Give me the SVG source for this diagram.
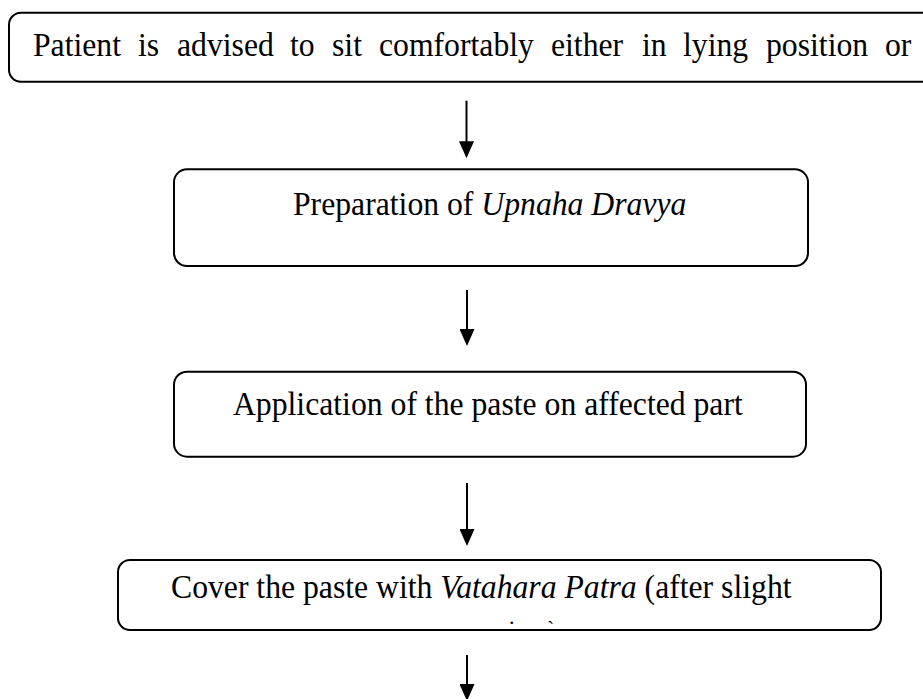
<svg xmlns="http://www.w3.org/2000/svg" width="923" height="699" viewBox="0 0 923 699">
<style>
.box{fill:#fff;stroke:#000;stroke-width:2}
.t{font-family:"Liberation Serif","Times New Roman",serif;font-size:31.7px;fill:#000}
.i{font-style:italic}
.conn{stroke:#000;stroke-width:2;fill:none}
</style>
<defs>
<marker id="ah" viewBox="0 0 17 15" refX="7" refY="7.5" markerWidth="17" markerHeight="15" markerUnits="userSpaceOnUse" orient="auto">
<path d="M0,0 L17,7.5 L0,15 z" fill="#000"/>
</marker>
</defs>
<rect width="923" height="699" fill="#fff"/>
<g id="n1">
<rect class="box" x="9" y="12.7" width="960" height="69" rx="12"/>
<text class="t" transform="translate(0,56) scale(1,1.06)"><tspan x="33">Patient</tspan><tspan x="138">is</tspan><tspan x="177">advised</tspan><tspan x="290">to</tspan><tspan x="332">sit</tspan><tspan x="379">comfortably</tspan><tspan x="551">either</tspan><tspan x="642">in</tspan><tspan x="683">lying</tspan><tspan x="766">position</tspan><tspan x="885">or</tspan></text>
</g>
<g id="n2">
<rect class="box" x="174" y="169.3" width="634" height="96.7" rx="13"/>
<text class="t" transform="translate(0,215) scale(1,1.06)" x="293">Preparation of <tspan class="i">Upnaha Dravya</tspan></text>
</g>
<g id="n3">
<rect class="box" x="174" y="371.7" width="632" height="85" rx="13"/>
<text class="t" transform="translate(0,415) scale(1,1.06)" x="233">Application of the paste on affected part</text>
</g>
<g id="n4">
<rect class="box" x="118" y="560" width="763" height="70" rx="12"/>
<text class="t" transform="translate(0,598) scale(1,1.06)" x="171">Cover the paste with <tspan class="i">Vatahara Patra</tspan> (after slight</text>
<text class="t" style="font-size:22px" x="509" y="624">.</text>
<text class="t" style="font-size:22px" x="547" y="636">`</text>
</g>
<g id="connectors">
<line class="conn" x1="466.5" y1="100.7" x2="466.5" y2="148.3" marker-end="url(#ah)"/>
<line class="conn" x1="467" y1="290" x2="467" y2="336" marker-end="url(#ah)"/>
<line class="conn" x1="467" y1="483" x2="467" y2="536" marker-end="url(#ah)"/>
<line class="conn" x1="467" y1="655" x2="467" y2="691" marker-end="url(#ah)"/>
</g>
</svg>
